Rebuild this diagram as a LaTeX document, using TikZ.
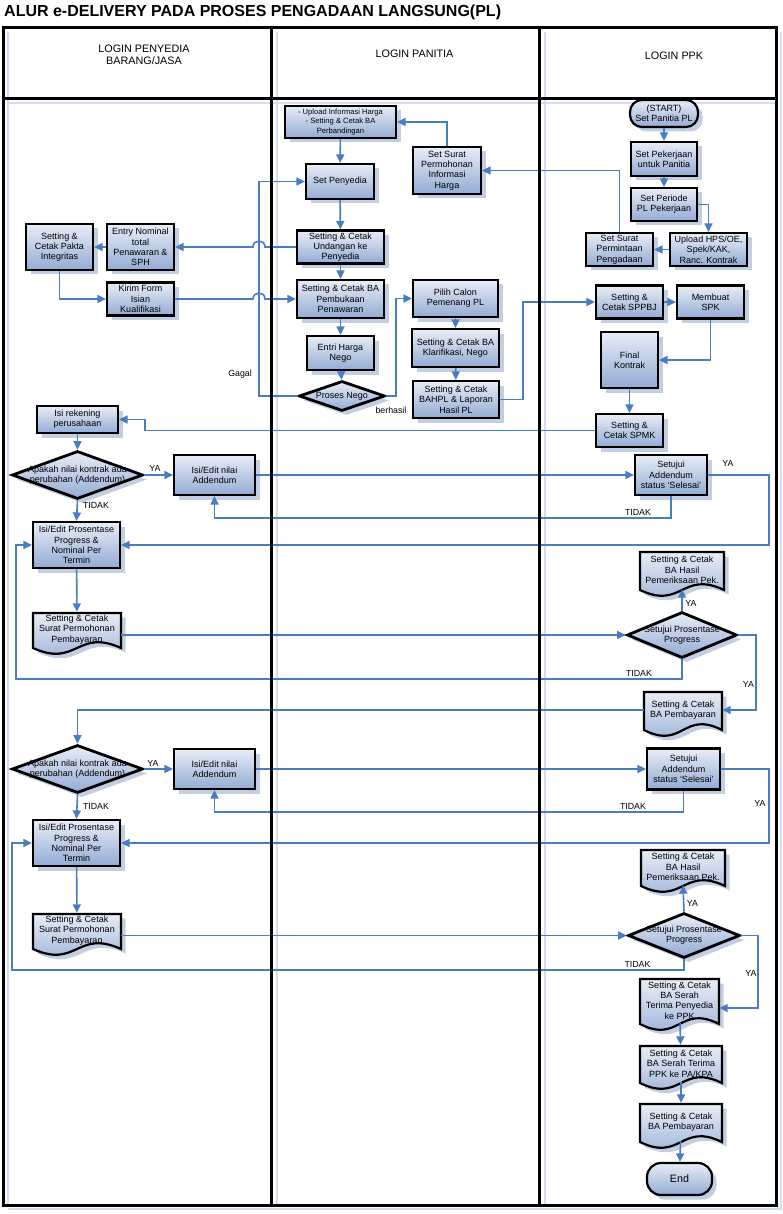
\documentclass[tikz,border=0pt]{standalone}
\usepackage{fontspec}
\setmainfont{Liberation Sans}
\usetikzlibrary{arrows.meta,shapes.geometric,shadows,calc}
\definecolor{arrowc}{HTML}{4A7CC0}
\definecolor{boxtop}{HTML}{E8EDF6}
\definecolor{boxbot}{HTML}{93ABD4}
\definecolor{shadowc}{HTML}{C3CEE2}
\definecolor{lanesh}{HTML}{D5DEEE}
\newcommand\docnode[6]{%
  \pgfmathsetmacro\dxc{(#2+#3)/2}%
  \pgfmathsetmacro\dyc{(#4+#5)/2}%
  \pgfmathsetmacro\dw{#3-#2}%
  \pgfmathsetmacro\dh{#5-#4}%
  \path[base] (#2,#4) -- (#3,#4) -- (#3,#5) .. controls (\dxc,#5-20) and (\dxc,#5+20) .. (#2,#5) -- cycle;
  \node[doctext, minimum width=\dw pt, minimum height=\dh pt] (#1) at (\dxc,\dyc-1) {#6};}
\begin{document}
\begin{tikzpicture}[x=1pt,y=-1pt,
  base/.style={draw=black, line width=2.2pt, top color=boxtop, bottom color=boxbot,
    drop shadow={shadow xshift=4.5pt, shadow yshift=-4.5pt, fill=shadowc, opacity=1}},
  box/.style={base, rectangle, align=center, inner sep=1pt, font=\fontsize{9}{10.3}\selectfont},
  term/.style={base, rectangle, rounded corners=12pt, align=center, inner sep=1pt, font=\fontsize{9}{10.3}\selectfont},
  dia/.style={base, diamond, inner sep=0pt, line width=2.8pt},
  dtext/.style={align=center, inner sep=0pt, font=\fontsize{9}{10.3}\selectfont},
  doctext/.style={align=center, inner sep=0pt, font=\fontsize{9}{10.3}\selectfont},
  arr/.style={draw=arrowc, line width=1.6pt, -{Triangle[length=8.5pt,width=8pt]}},
  lbl/.style={font=\fontsize{8.8}{10}\selectfont, inner sep=0pt},
  head/.style={align=center, font=\fontsize{10.8}{12}\selectfont, inner sep=0pt},
  frame/.style={draw=black, line width=3pt},
  lane/.style={draw=lanesh, line width=2.5pt}]
\useasboundingbox (0,0) rectangle (783,1214);
% lane shadows
\draw[lane] (8,32) -- (8,1205);
\draw[lane] (277,32) -- (277,1205);
\draw[lane] (545,32) -- (545,1205);
\draw[lane] (781,32) -- (781,1209) -- (8,1209);
\draw[lane] (8,103) -- (776,103);
% title and headers
\node[anchor=west, inner sep=0pt, font=\fontsize{16}{18}\bfseries\selectfont] (title) at (4,12) {ALUR e-DELIVERY PADA PROSES PENGADAAN LANGSUNG(PL)};
\node[head] (h1) at (144,55) {LOGIN PENYEDIA\\BARANG/JASA};
\node[head] (h2) at (414.5,53.5) {LOGIN PANITIA};
\node[head] (h3) at (674,55.5) {LOGIN PPK};
% ---- Panitia
\node[box, minimum width=111pt, minimum height=32pt, font=\fontsize{7.6}{9.5}\selectfont] (up) at (340.5,122) {- Upload Informasi Harga\\- Setting \& Cetak BA\\Perbandingan};
\node[box, minimum width=68pt, minimum height=35pt] (setpeny) at (340,181.5) {Set Penyedia};
\node[box, minimum width=87pt, minimum height=33pt] (undangan) at (340.5,247) {Setting \& Cetak\\Undangan ke\\Penyedia};
\node[box, minimum width=87pt, minimum height=38pt] (pembukaan) at (340.5,299) {Setting \& Cetak BA\\Pembukaan\\Penawaran};
\node[box, minimum width=67pt, minimum height=34pt] (entri) at (340.5,353) {Entri Harga\\Nego};
\node[dia, minimum width=86pt, minimum height=30pt, label={[dtext]center:Proses Nego}] (nego) at (342,396) {};
\node[box, minimum width=68pt, minimum height=47pt] (setsurat) at (447,170.5) {Set Surat\\Permohonan\\Informasi\\Harga};
\node[box, minimum width=85pt, minimum height=37pt] (pilih) at (455.5,298.5) {Pilih Calon\\Pemenang PL};
\node[box, minimum width=87pt, minimum height=38pt] (klar) at (455.5,348) {Setting \& Cetak BA\\Klarifikasi, Nego};
\node[box, minimum width=86pt, minimum height=37pt] (bahpl) at (456,399.5) {Setting \& Cetak\\BAHPL \& Laporan\\Hasil PL};
% ---- Penyedia
\node[box, minimum width=67pt, minimum height=46pt] (pakta) at (59.5,247) {Setting \&\\Cetak Pakta\\Integritas};
\node[box, minimum width=67pt, minimum height=46pt] (nominal) at (140.5,247) {Entry Nominal\\total\\Penawaran \&\\SPH};
\node[box, minimum width=67pt, minimum height=33pt] (kirim) at (140.5,299) {Kirim Form\\Isian\\Kualifikasi};
\node[box, minimum width=81pt, minimum height=27pt] (rek) at (77.5,419.5) {Isi rekening\\perusahaan};
\node[dia, minimum width=131pt, minimum height=48pt, label={[dtext]center:{Apakah nilai kontrak ada\\perubahan (Addendum)}}] (d1) at (77.5,475) {};
\node[box, minimum width=81pt, minimum height=40pt] (add1) at (214.5,475) {Isi/Edit nilai\\Addendum};
\node[box, minimum width=87pt, minimum height=46pt] (prog1) at (76.5,545) {Isi/Edit Prosentase\\Progress \&\\Nominal Per\\Termin};
\docnode{surat1}{33}{121}{613}{648}{Setting \& Cetak\\Surat Permohonan\\Pembayaran}
\node[dia, minimum width=131pt, minimum height=48pt, label={[dtext]center:{Apakah nilai kontrak ada\\perubahan (Addendum)}}] (d2) at (77.5,769) {};
\node[box, minimum width=81pt, minimum height=40pt] (add2) at (214.5,769) {Isi/Edit nilai\\Addendum};
\node[box, minimum width=87pt, minimum height=46pt] (prog2) at (76.5,843) {Isi/Edit Prosentase\\Progress \&\\Nominal Per\\Termin};
\docnode{surat2}{33}{121}{914}{949}{Setting \& Cetak\\Surat Permohonan\\Pembayaran}
% ---- PPK
\node[term, minimum width=68pt, minimum height=27pt] (start) at (664,113.5) {(START)\\Set Panitia PL};
\node[box, minimum width=66pt, minimum height=34pt] (pek) at (664,159) {Set Pekerjaan\\untuk Panitia};
\node[box, minimum width=66pt, minimum height=33pt] (periode) at (664,204.5) {Set Periode\\PL Pekerjaan};
\node[box, minimum width=77pt, minimum height=33pt] (upload) at (708.5,249.5) {Upload HPS/OE,\\Spek/KAK,\\Ranc. Kontrak};
\node[box, minimum width=67pt, minimum height=33pt] (ssp) at (619.5,249.5) {Set Surat\\Permintaan\\Pengadaan};
\node[box, minimum width=67pt, minimum height=33pt] (sppbj) at (629.5,302) {Setting \&\\Cetak SPPBJ};
\node[box, minimum width=67pt, minimum height=33pt] (spk) at (710.5,302) {Membuat\\SPK};
\node[box, minimum width=57pt, minimum height=56pt] (final) at (629.5,360) {Final\\Kontrak};
\node[box, minimum width=67pt, minimum height=33pt] (spmk) at (629.5,430.5) {Setting \&\\Cetak SPMK};
\node[box, minimum width=72pt, minimum height=40pt] (setadd1) at (671,475) {Setujui\\Addendum\\status `Selesai'};
\docnode{bahasil1}{640}{724}{552}{590}{Setting \& Cetak\\BA Hasil\\Pemeriksaan Pek.}
\node[dia, minimum width=110pt, minimum height=46pt, label={[dtext]center:{Setujui Prosentase\\Progress}}] (dprog1) at (682,635) {};
\docnode{bapemb1}{644}{722}{692}{730}{Setting \& Cetak\\BA Pembayaran}
\node[box, minimum width=73pt, minimum height=41pt] (setadd2) at (683.5,769) {Setujui\\Addendum\\status `Selesai'};
\docnode{bahasil2}{641}{725}{850}{886}{Setting \& Cetak\\BA Hasil\\Pemeriksaan Pek.}
\node[dia, minimum width=112pt, minimum height=45pt, label={[dtext]center:{Setujui Prosentase\\Progress}}] (dprog2) at (684,935.5) {};
\docnode{serah1}{640}{719}{979}{1024}{Setting \& Cetak\\BA Serah\\Terima Penyedia\\ke PPK}
\docnode{serah2}{640}{722}{1046}{1083}{Setting \& Cetak\\BA Serah Terima\\PPK ke PA/KPA}
\docnode{bapemb2}{640}{722}{1104}{1142}{Setting \& Cetak\\BA Pembayaran}
\node[term, minimum width=65pt, minimum height=32pt, rounded corners=14pt, font=\fontsize{10.7}{12}\selectfont] (end) at (679.5,1179) {End};
% helper coordinates
\coordinate (gx) at (259,0);
\coordinate (bx) at (396,0);
\coordinate (cx) at (523,0);
\coordinate (rx) at (145,0);
\coordinate (yx) at (769,0);
\coordinate (ty1) at (0,518);
\coordinate (ty2) at (0,679);
\coordinate (tx1) at (16,0);
\coordinate (px1) at (756,0);
\coordinate (ty3) at (0,812);
\coordinate (ty4) at (0,970);
\coordinate (tx2) at (12,0);
\coordinate (px2) at (758,0);
\coordinate (sy) at (0,1008);
\coordinate (hA) at (undangan.west -| gx);
\coordinate (hB) at (kirim.east -| gx);
% connectors PPK top
\draw[arr] (start) -- (pek);
\draw[arr] (pek) -- (periode);
\draw[arr] (periode.east) -| (upload.north);
\draw[arr] (upload.west) -- (ssp.east);
\draw[arr] (ssp.north) |- (setsurat.east);
\draw[arr] (setsurat.north) |- (up.east);
\draw[arr] (up) -- (setpeny);
\draw[arr] (setpeny) -- (undangan);
\draw[arr] (undangan) -- (pembukaan);
\draw[arr] (pembukaan) -- (entri);
\draw[arr] (entri) -- (nego);
\draw[arr] (undangan.west) -- ($(hA)+(6,0)$) .. controls +(0,-8) and +(0,-8) .. ($(hA)+(-6,0)$) -- (nominal.east);
\draw[arr] (nominal.west) -- (pakta.east);
\draw[arr] (pakta.south) |- (kirim.west);
\draw[arr] (kirim.east) -- ($(hB)+(-6,0)$) .. controls +(0,-8) and +(0,-8) .. ($(hB)+(6,0)$) -- (pembukaan.west);
\draw[arr] (nego.west) -| (gx |- setpeny.west) -- (setpeny.west);
\draw[arr] (nego.east) -| (bx |- pilih.west) -- (pilih.west);
\draw[arr] (pilih) -- (klar);
\draw[arr] (klar) -- (bahpl);
\draw[arr] (bahpl.east) -| (cx |- sppbj.west) -- (sppbj.west);
\draw[arr] (sppbj) -- (spk);
\draw[arr] (spk.south) |- (final.east);
\draw[arr] (final) -- (spmk);
\draw[arr] (spmk.west) -| (rx |- rek.east) -- (rek.east);
% first addendum / payment cycle
\draw[arr] (rek) -- (d1);
\draw[arr] (d1.east) -- (add1.west);
\draw[arr] (d1.south) -- (prog1.north);
\draw[arr] (add1.east) -- (setadd1.west);
\draw[arr] (setadd1.south) |- (ty1 -| add1.south) -- (add1.south);
\draw[arr] (setadd1.east) -| (yx |- prog1.east) -- (prog1.east);
\draw[arr] (prog1) -- (surat1);
\draw[arr] (surat1.east |- dprog1.west) -- (dprog1.west);
\draw[arr] (dprog1.north) -- (bahasil1.south);
\draw[arr] (dprog1.south) |- (ty2 -| tx1) |- (prog1.west);
\draw[arr] (dprog1.east) -| (px1 |- bapemb1.east) -- (bapemb1.east);
\draw[arr] (bapemb1.west) -| (d2.north);
% second cycle
\draw[arr] (d2.east) -- (add2.west);
\draw[arr] (d2.south) -- (prog2.north);
\draw[arr] (add2.east) -- (setadd2.west);
\draw[arr] (setadd2.south) |- (ty3 -| add2.south) -- (add2.south);
\draw[arr] (setadd2.east) -| (yx |- prog2.east) -- (prog2.east);
\draw[arr] (prog2) -- (surat2);
\draw[arr] (surat2.east |- dprog2.west) -- (dprog2.west);
\draw[arr] (dprog2.north) -- (bahasil2.south);
\draw[arr] (dprog2.south) |- (ty4 -| tx2) |- (prog2.west);
\draw[arr] (dprog2.east) -| (px2 |- sy) -- (serah1.east |- sy);
\draw[arr] (serah1) -- (serah2);
\draw[arr] (serah2) -- (bapemb2);
\draw[arr] (bapemb2) -- (end);
% labels
\node[lbl] (lgagal) at (240,374) {Gagal};
\node[lbl] (lberhasil) at (391,410) {berhasil};
\node[lbl] (ly1) at (155,468) {YA};
\node[lbl] (lt1) at (96,505) {TIDAK};
\node[lbl] (ly2) at (728,463) {YA};
\node[lbl] (lt2) at (638,512) {TIDAK};
\node[lbl] (ly3) at (691,603) {YA};
\node[lbl] (lt3) at (639,673) {TIDAK};
\node[lbl] (ly4) at (748.5,684.5) {YA};
\node[lbl] (ly5) at (153,763) {YA};
\node[lbl] (lt5) at (96,806) {TIDAK};
\node[lbl] (lt6) at (633,806) {TIDAK};
\node[lbl] (ly6) at (760,803) {YA};
\node[lbl] (ly7) at (692.5,903) {YA};
\node[lbl] (lt7) at (637.5,964.5) {TIDAK};
\node[lbl] (ly8) at (751,973) {YA};
% frame
\draw[frame] (3,28) rectangle (776,1205);
\draw[frame] (3,99) -- (776,99);
\draw[frame] (271.5,28) -- (271.5,1205);
\draw[frame] (539,28) -- (539,1205);
\end{tikzpicture}
\end{document}
